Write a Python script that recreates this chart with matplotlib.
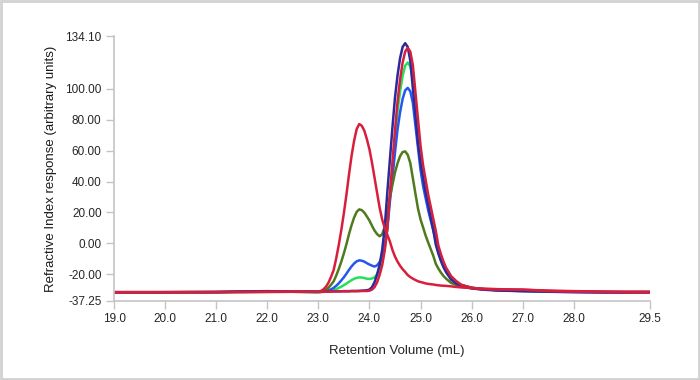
import matplotlib
matplotlib.use('Agg')
import matplotlib.pyplot as plt
from matplotlib.patches import Rectangle

plt.rcParams['font.family'] = ['Liberation Sans', 'DejaVu Sans']

retention = [19.0, 20.0, 21.0, 21.5, 22.0, 22.5,
             23.00, 23.05, 23.10, 23.15, 23.20, 23.25, 23.30, 23.35, 23.40, 23.45,
             23.50, 23.55, 23.60, 23.65, 23.70, 23.75, 23.80, 23.85, 23.90, 23.95,
             24.00, 24.05, 24.10, 24.15, 24.20, 24.25, 24.30, 24.35, 24.40, 24.45,
             24.50, 24.55, 24.60, 24.65, 24.70, 24.75, 24.80, 24.85, 24.90, 24.95,
             25.00, 25.05, 25.10, 25.15, 25.20, 25.25, 25.30, 25.35, 25.40, 25.45,
             25.50,
             25.6, 25.7, 25.8, 26.0, 26.2, 26.5, 27.0, 27.5, 28.0, 28.5, 29.0, 29.5]

# refractive index response per sample
navy = [-31.6, -31.6, -31.5, -31.1, -30.9, -31.2,
        -31.2, -31.2, -31.2, -31.1, -31.1, -31.1, -31.0, -31.0, -31.0, -31.0,
        -30.9, -30.9, -30.9, -30.8, -30.8, -30.8, -30.7, -30.6, -30.5, -30.3,
        -29.9, -28.3, -25.1, -20.2, -13.8, -4.1, 10.4, 32.9, 53.8, 74.8,
        94.1, 108.6, 119.8, 127.1, 129.5, 127.1, 118.2, 100.5, 82.8, 65.1,
        52.2, 42.6, 32.9, 24.9, 16.8, 8.8, -0.9, -6.5, -11.4, -15.4,
        -18.6,
        -23.5, -25.9, -27.5, -29.1, -29.9, -30.5, -30.9, -31.2, -31.4, -31.5, -31.6, -31.5]

crimson = [-31.7, -31.6, -31.6, -31.5, -31.4, -31.3,
           -31.3, -31.3, -31.3, -31.2, -31.2, -31.2, -31.1, -31.1, -31.1, -31.0,
           -31.0, -31.0, -31.0, -30.9, -30.9, -30.9, -30.9, -30.8, -30.8, -30.8,
           -30.6, -29.9, -28.3, -25.2, -20.4, -14.1, -4.6, 9.6, 31.7, 52.2,
           72.8, 91.7, 106.0, 117.0, 124.1, 126.5, 124.1, 115.4, 98.1, 80.7,
           63.3, 50.7, 41.2, 31.7, 23.8, 15.9, 8.0, -1.5, -7.0, -11.8,
           -15.7,
           -21.2, -24.4, -26.8, -28.7, -29.6, -29.8, -29.9, -30.8, -31.3, -31.5, -31.7, -31.8]

lime = [-31.6, -31.6, -31.5, -31.4, -31.4, -31.3,
        -31.5, -31.45, -31.4, -31.2, -31.0, -30.6, -30.3, -29.6, -28.8, -28.0,
        -27.0, -26.0, -24.8, -23.8, -22.9, -22.3, -22.0, -22.1, -22.4, -22.9,
        -23.0, -22.7, -22.0, -20.0, -16.4, -11.2, -2.8, 10.1, 30.4, 49.1,
        67.9, 85.3, 98.3, 108.5, 114.9, 117.0, 114.6, 106.4, 90.1, 73.8,
        57.6, 45.7, 36.9, 28.0, 20.5, 13.2, 5.8, -3.1, -8.3, -12.8,
        -16.4,
        -21.6, -24.6, -26.9, -28.6, -29.5, -30.1, -30.6, -31.0, -31.3, -31.5, -31.6, -31.6]

blue = [-31.7, -31.6, -31.6, -31.2, -31.0, -31.3,
        -31.5, -31.4, -31.2, -30.9, -30.4, -29.7, -28.8, -27.4, -25.8, -23.9,
        -21.9, -19.6, -17.1, -14.9, -13.0, -11.6, -11.0, -11.2, -11.8, -12.8,
        -13.7, -14.4, -15.0, -14.2, -12.1, -8.4, -1.6, 9.3, 26.7, 42.5,
        58.6, 73.6, 84.8, 93.5, 99.0, 100.6, 98.4, 91.0, 76.5, 62.1,
        47.7, 37.2, 29.3, 21.5, 14.9, 8.4, 1.8, -6.0, -10.5, -14.5,
        -17.8,
        -22.3, -25.0, -27.1, -28.7, -29.5, -30.3, -30.9, -31.3, -31.6, -31.8, -31.9, -31.8]

olive = [-31.6, -31.6, -31.5, -31.4, -31.3, -31.3,
         -31.5, -31.2, -30.7, -29.9, -28.6, -26.7, -24.5, -20.8, -16.5, -11.7,
         -6.4, -0.5, 6.0, 11.8, 16.7, 20.4, 22.0, 21.5, 19.9, 17.4,
         14.8, 11.4, 8.3, 6.0, 4.6, 5.9, 10.8, 20.6, 29.5, 37.8,
         45.8, 51.8, 56.4, 59.1, 59.5, 57.3, 52.0, 42.2, 32.3, 22.7,
         15.6, 10.4, 5.1, 0.6, -3.7, -8.0, -13.2, -16.3, -18.9, -21.1,
         -22.8,
         -25.6, -26.9, -28.0, -29.0, -29.6, -30.2, -30.6, -31.0, -31.2, -31.4, -31.5, -31.4]

red_early = [-31.5, -31.5, -31.4, -31.4, -31.3, -31.2,
             -31.3, -30.8, -29.7, -28.0, -25.3, -21.5, -17.2, -9.6, -0.9, 8.8,
             19.7, 31.6, 44.6, 56.6, 66.4, 73.9, 77.2, 76.1, 72.9, 67.4,
             60.9, 52.2, 42.5, 32.7, 23.0, 15.4, 9.9, 5.6, 1.3, -4.2,
             -8.5, -11.8, -14.5, -16.7, -18.5, -20.5, -21.8, -22.8, -23.7, -24.5,
             -25.0, -25.4, -25.9, -26.2, -26.4, -26.6, -26.9, -27.1, -27.3, -27.4,
             -27.5,
             -27.8, -28.2, -28.5, -28.9, -29.2, -29.6, -30.0, -30.5, -30.9, -31.1, -31.2, -31.3]

traces = [(lime, '#25e05a'), (blue, '#2456f0'), (olive, '#4f7a1e'),
          (navy, '#2b2a9c'), (crimson, '#d4203f'), (red_early, '#d81e3c')]

x_ticks = [19.0, 20.0, 21.0, 22.0, 23.0, 24.0, 25.0, 26.0, 27.0, 28.0, 29.5]
y_ticks = [-37.25, -20.0, 0.0, 20.0, 40.0, 60.0, 80.0, 100.0, 134.10]


def chromatogram(x, traces, fname='out.png'):
    """ overlaid RI traces """
    fig = plt.figure(figsize=(7, 3.8), dpi=100)
    ax = fig.add_axes([0.163, 0.208, 0.766, 0.697])
    for y, color in traces:
        ax.plot(x, y, color=color, lw=1.8, solid_joinstyle='round')

    ax.set_xlim(19.0, 29.5)
    ax.set_ylim(-37.25, 134.10)
    ax.set_xticks(x_ticks)
    ax.set_xticklabels(['%.1f' % t for t in x_ticks])
    ax.set_yticks(y_ticks)
    ax.set_yticklabels(['%.2f' % t for t in y_ticks])

    for side in ['top', 'right']:
        ax.spines[side].set_visible(False)
    for side in ['left', 'bottom']:
        ax.spines[side].set_color('#c4c4c4')
        ax.spines[side].set_linewidth(1.2)
    ax.tick_params(direction='out', length=6, width=1, color='#c4c4c4',
                   labelsize=8.5, labelcolor='#262626', pad=3)

    ax.set_xlabel('Retention Volume (mL)', fontsize=9.5, color='#262626',
                  labelpad=14, x=0.528)
    ax.set_ylabel('Refractive Index response (arbitrary units)', fontsize=9.5,
                  color='#1a1a1a', labelpad=6)

    # light frame round the picture
    fig.patches.append(Rectangle((0.0015, 0.003), 0.997, 0.994, transform=fig.transFigure,
                                 fill=False, edgecolor='#d2d2d2', lw=2))
    fig.savefig(fname, dpi=100)


if __name__ == '__main__':
    chromatogram(retention, traces)
